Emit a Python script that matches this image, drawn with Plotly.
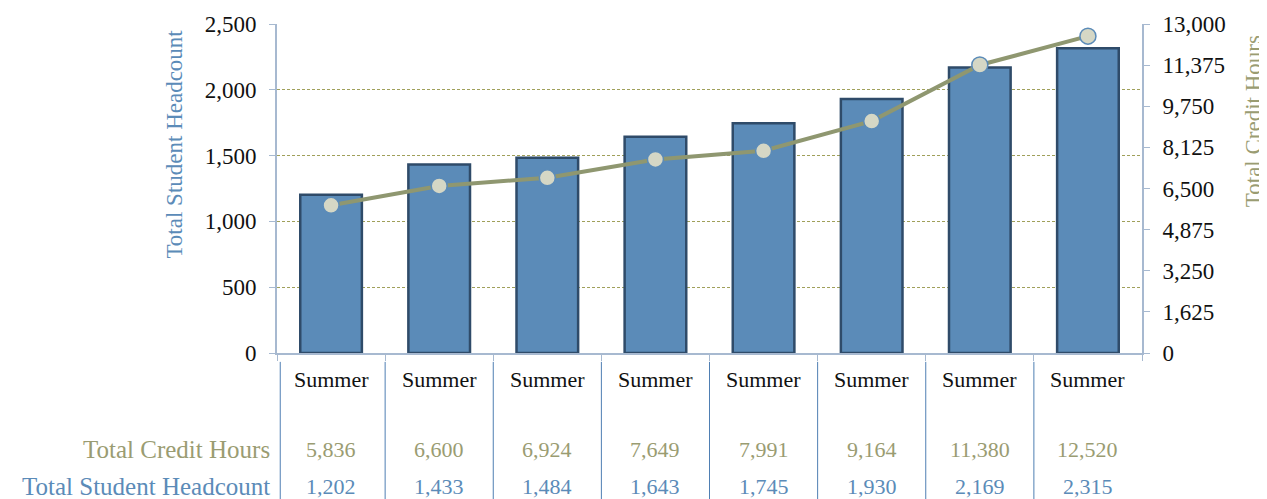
import plotly.graph_objects as go

categories = ["Summer"] * 8
headcount = [1202, 1433, 1484, 1643, 1745, 1930, 2169, 2315]
credit_hours = [5836, 6600, 6924, 7649, 7991, 9164, 11380, 12520]
row_labels = ["Total Credit Hours", "Total Student Headcount"]
axis_titles = ["Total Student Headcount", "Total Credit Hours"]

FONT = "Liberation Serif"
BLUE = "#5b8bb8"
OLIVE = "#8f9770"
OLIVE_TXT = "#9a9c72"
AXIS = "#a7b9d0"
GRID = "#a0a05a"

x = list(range(len(categories)))

fig = go.Figure()
fig.add_trace(go.Bar(
    x=x, y=headcount, name=row_labels[1],
    marker=dict(color=BLUE, line=dict(color="#2f4b69", width=2.5)),
    yaxis="y",
))
fig.add_trace(go.Scatter(
    x=x, y=credit_hours, name=row_labels[0], mode="lines+markers",
    line=dict(color=OLIVE, width=4),
    marker=dict(size=16, color="#d5d7c5", line=dict(color=BLUE, width=1.5)),
    yaxis="y2",
))

annotations = []
for i, cat in enumerate(categories):
    annotations.append(dict(x=i, y=-0.082, xref="x", yref="paper", text=cat,
                            showarrow=False, font=dict(family=FONT, size=22, color="#111"),
                            xanchor="center", yanchor="middle"))
    annotations.append(dict(x=i, y=-0.292, xref="x", yref="paper", text=f"{credit_hours[i]:,}",
                            showarrow=False, font=dict(family=FONT, size=22, color=OLIVE_TXT),
                            xanchor="center", yanchor="middle"))
    annotations.append(dict(x=i, y=-0.407, xref="x", yref="paper", text=f"{headcount[i]:,}",
                            showarrow=False, font=dict(family=FONT, size=22, color=BLUE),
                            xanchor="center", yanchor="middle"))
annotations.append(dict(x=-0.006, y=-0.292, xref="paper", yref="paper", text=row_labels[0],
                        showarrow=False, font=dict(family=FONT, size=25, color=OLIVE_TXT),
                        xanchor="right", yanchor="middle"))
annotations.append(dict(x=-0.006, y=-0.407, xref="paper", yref="paper", text=row_labels[1],
                        showarrow=False, font=dict(family=FONT, size=25, color=BLUE),
                        xanchor="right", yanchor="middle"))
# axis titles (placed like the reference, toward the top)
annotations.append(dict(x=-0.1185, y=0.635, xref="paper", yref="paper", text=axis_titles[0],
                        textangle=-90, showarrow=False,
                        font=dict(family=FONT, size=23, color=BLUE),
                        xanchor="center", yanchor="middle"))
annotations.append(dict(x=1.1285, y=0.705, xref="paper", yref="paper", text=axis_titles[1],
                        textangle=-90, showarrow=False,
                        font=dict(family=FONT, size=23, color=OLIVE_TXT),
                        xanchor="center", yanchor="middle"))

shapes = []
for b in range(len(categories)):
    xb = b - 0.47 if b == 0 else b - 0.5
    shapes.append(dict(type="line", xref="x", yref="paper", x0=xb, x1=xb, y0=-0.027, y1=-0.46,
                       line=dict(color="#4f7fb3", width=1)))

fig.update_layout(
    width=1259, height=491,
    margin=dict(l=269, r=125, t=16, b=146, autoexpand=False),
    paper_bgcolor="white", plot_bgcolor="white",
    showlegend=False,
    bargap=0.43,
    font=dict(family=FONT, size=22, color="#111"),
    xaxis=dict(range=[-0.5, 7.5], tickvals=[b - 0.5 for b in range(9)],
               ticktext=[""] * 9, ticks="outside", ticklen=6, tickcolor=AXIS,
               showline=True, linecolor=AXIS, linewidth=2, showgrid=False, zeroline=False,
               automargin=False),
    yaxis=dict(range=[0, 2500], dtick=500, tickformat=",", ticks="outside", ticklen=6,
               tickcolor=AXIS, showline=True, linecolor=AXIS, linewidth=2,
               showgrid=True, gridcolor=GRID, griddash="3px,2px", gridwidth=1, zeroline=False,
               tickfont=dict(family=FONT, size=23, color="#111"), ticklabelstandoff=8,
               automargin=False),
    yaxis2=dict(range=[0, 13000], dtick=1625, tickformat=",", overlaying="y", side="right",
                ticks="outside", ticklen=6, tickcolor=AXIS, showline=True, linecolor=AXIS,
                linewidth=2, showgrid=False, zeroline=False,
                tickfont=dict(family=FONT, size=23, color="#111"), ticklabelstandoff=8,
                automargin=False),
    annotations=annotations,
    shapes=shapes,
)

fig.write_html("out.html")
